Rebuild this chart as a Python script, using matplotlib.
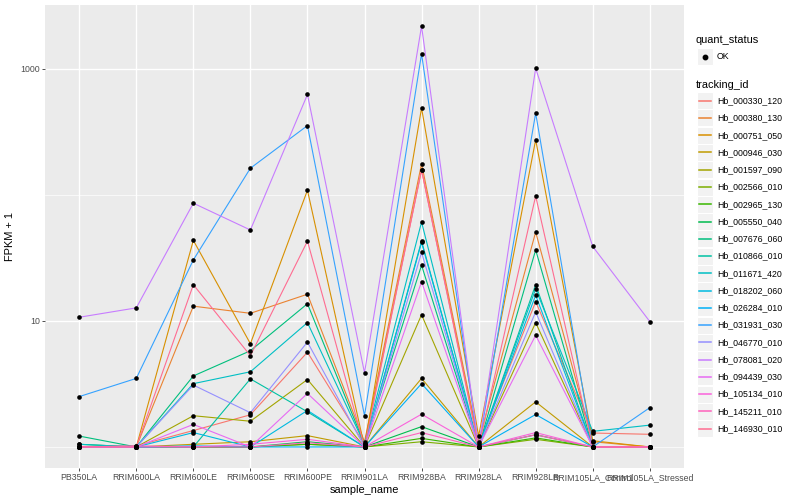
import matplotlib
matplotlib.use("Agg")
import matplotlib.pyplot as plt
from matplotlib.lines import Line2D
from matplotlib.patches import Rectangle
import numpy as np

plt.rcParams['font.family'] = ['Liberation Sans', 'DejaVu Sans']

samples = ["PB350LA", "RRIM600LA", "RRIM600LE", "RRIM600SE", "RRIM600PE", "RRIM901LA",
           "RRIM928BA", "RRIM928LA", "RRIM928LB", "RRIM105LA_Control", "RRIM105LA_Stressed"]

tracking_ids = ["Hb_000330_120", "Hb_000380_130", "Hb_000751_050", "Hb_000946_030",
                "Hb_001597_090", "Hb_002566_010", "Hb_002965_130", "Hb_005550_040",
                "Hb_007676_060", "Hb_010866_010", "Hb_011671_420", "Hb_018202_060",
                "Hb_026284_010", "Hb_031931_030", "Hb_046770_010", "Hb_078081_020",
                "Hb_094439_030", "Hb_105134_010", "Hb_145211_010", "Hb_146930_010"]

# ggplot default hue palette for 20 levels
colors = ["#F8766D", "#EA8331", "#D89000", "#C09B00", "#A3A500", "#7CAE00", "#39B600",
          "#00BB4E", "#00BF7D", "#00C1A3", "#00BFC4", "#00BAE0", "#00B0F6", "#35A2FF",
          "#9590FF", "#C77CFF", "#E76BF3", "#FA62DB", "#FF62BC", "#FF6C91"]

# FPKM + 1, one row per tracking_id, columns follow samples
fpkm = [
    [1.00, 1.02, 1.35, 1.80, 5.65, 1.05, 158.0, 1.05, 14.2, 1.29, 1.26],
    [1.00, 1.00, 13.1, 11.5, 16.3, 1.10, 177.0, 1.10, 50.8, 1.10, 1.00],
    [1.00, 1.00, 43.6, 6.60, 109.0, 1.00, 490.0, 1.22, 274.0, 1.12, 1.00],
    [1.00, 1.00, 1.05, 1.10, 1.23, 1.00, 3.50, 1.00, 2.28, 1.00, 1.00],
    [1.00, 1.00, 1.77, 1.60, 3.43, 1.00, 11.2, 1.00, 9.70, 1.00, 1.00],
    [1.00, 1.00, 1.00, 1.00, 1.05, 1.00, 1.10, 1.00, 1.15, 1.00, 1.00],
    [1.00, 1.00, 1.00, 1.00, 1.05, 1.00, 1.17, 1.00, 1.18, 1.00, 1.00],
    [1.05, 1.00, 1.00, 1.00, 1.10, 1.00, 1.45, 1.00, 1.25, 1.00, 1.00],
    [1.22, 1.00, 3.66, 5.80, 13.7, 1.05, 27.7, 1.00, 36.6, 1.00, 1.00],
    [1.00, 1.00, 1.00, 3.47, 1.90, 1.00, 43.0, 1.00, 19.4, 1.00, 1.00],
    [1.05, 1.00, 3.18, 3.95, 9.70, 1.05, 61.0, 1.00, 18.0, 1.33, 1.49],
    [1.00, 1.00, 1.30, 1.00, 1.95, 1.00, 42.0, 1.00, 16.0, 1.00, 1.00],
    [1.00, 1.00, 1.02, 1.00, 1.00, 1.00, 3.18, 1.00, 1.81, 1.00, 1.00],
    [2.51, 3.50, 30.5, 163.0, 355.0, 1.77, 1320.0, 1.00, 446.0, 1.00, 2.05],
    [1.00, 1.00, 3.10, 1.87, 6.80, 1.00, 35.0, 1.00, 11.8, 1.00, 1.00],
    [10.7, 12.7, 86.0, 52.7, 627.0, 3.88, 2190.0, 1.00, 1013.0, 39.0, 9.90],
    [1.00, 1.00, 1.51, 1.00, 2.66, 1.00, 20.5, 1.00, 7.70, 1.00, 1.00],
    [1.00, 1.00, 1.00, 1.05, 1.15, 1.00, 1.82, 1.00, 1.30, 1.00, 1.00],
    [1.00, 1.02, 1.00, 1.00, 1.08, 1.00, 1.30, 1.00, 1.25, 1.00, 1.00],
    [1.00, 1.00, 19.4, 5.30, 43.0, 1.00, 158.0, 1.00, 98.0, 1.00, 1.00],
]

W, H = 800, 500
fig = plt.figure(figsize=(8, 5), dpi=100)
ax = fig.add_axes([45 / W, 32 / H, (684 - 45) / W, (468 - 5) / H])
ax.set_facecolor('#EBEBEB')
for sp in ax.spines.values():
    sp.set_visible(False)

x = np.arange(len(samples))
for vals, col in zip(fpkm, colors):
    ax.plot(x, vals, color=col, lw=0.8, zorder=3)
for vals in fpkm:
    ax.scatter(x, vals, s=11, color='black', linewidths=0, zorder=4)

ax.set_yscale('log')
logs = np.log10(np.array(fpkm))
lo, hi = logs.min(), logs.max()
pad = 0.05 * (hi - lo)
ax.set_ylim(10 ** (lo - pad), 10 ** (hi + pad))
ax.set_xlim(-0.6, len(samples) - 0.4)

ax.set_xticks(x)
ax.set_xticklabels(samples)
ax.set_yticks([10, 1000])
ax.set_yticklabels(['10', '1000'])
ax.set_yticks([1, 100], minor=True)
ax.set_yticklabels([], minor=True)
ax.tick_params(which='minor', length=0)
ax.tick_params(which='major', length=2.2, width=0.6, color='#333333',
               labelcolor='#4D4D4D', labelsize=6.3, pad=1.5)

ax.set_axisbelow(True)
ax.grid(which='major', color='white', lw=1.0)
ax.grid(which='minor', axis='y', color='white', lw=0.5)

ax.set_xlabel('sample_name', fontsize=7.9, labelpad=2)
ax.set_ylabel('FPKM + 1', fontsize=7.9, labelpad=4)


def fx(px):
    return px / W


def fy(py):
    return 1 - py / H


# legend: quant_status
fig.text(fx(696), fy(40), 'quant_status', fontsize=7.9, va='center')
fig.add_artist(Rectangle((fx(697), fy(65)), 16 / W, 17 / H, transform=fig.transFigure,
                         fc='#F2F2F2', ec='white', lw=0.8, zorder=1))
fig.add_artist(Line2D([fx(705)], [fy(56.5)], marker='o', ms=3.2, color='black',
                      transform=fig.transFigure, zorder=3))
fig.text(fx(717), fy(56.5), 'OK', fontsize=6.3, va='center')

# legend: tracking_id
fig.text(fx(696), fy(84.5), 'tracking_id', fontsize=7.9, va='center')
for i, (tid, col) in enumerate(zip(tracking_ids, colors)):
    yc = 100.7 + i * 17.26
    fig.add_artist(Rectangle((fx(697), fy(yc + 8.5)), 16 / W, 17 / H,
                             transform=fig.transFigure, fc='#F2F2F2', ec='white', lw=0.8,
                             zorder=1))
    fig.add_artist(Line2D([fx(699), fx(711)], [fy(yc), fy(yc)], color=col, lw=1.1,
                          transform=fig.transFigure, zorder=3))
    fig.text(fx(717), fy(yc), tid, fontsize=6.3, va='center')

fig.savefig('out.png', dpi=100)
